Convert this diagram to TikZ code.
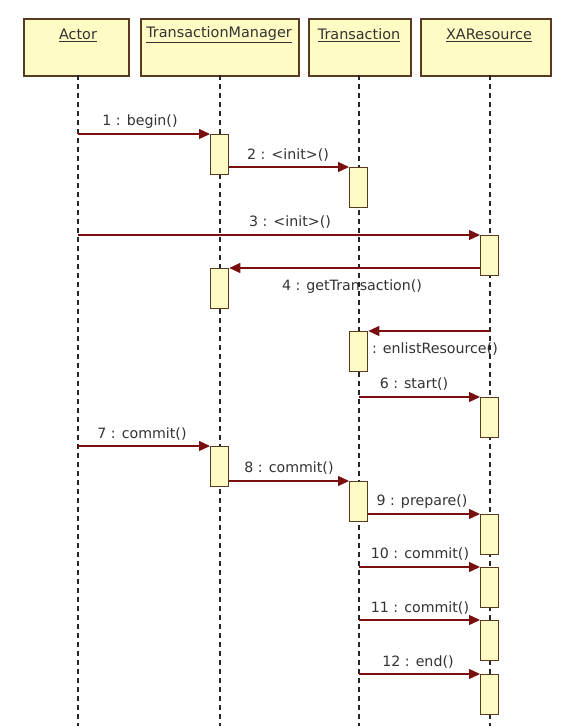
\documentclass[tikz,border=0pt]{standalone}
\usepackage{fontspec}
\setmainfont{DejaVu Sans}
\usetikzlibrary{arrows.meta}
\definecolor{boxfill}{HTML}{FFFBC4}
\definecolor{boxline}{HTML}{5A3A1E}
\definecolor{msgred}{HTML}{7A0F0F}
\definecolor{txt}{HTML}{333333}
\tikzset{
  x=1pt,y=-1pt,
  head/.style={draw=boxline,fill=boxfill,line width=1.5pt,minimum height=57pt,anchor=north west,inner sep=0},
  headtxt/.style={font=\fontsize{14.4}{16}\selectfont,text=txt,inner sep=0},
  life/.style={draw=black!85,line width=1.3pt,dash pattern=on 5pt off 4pt},
  act/.style={draw=boxline,fill=boxfill,line width=1.3pt,minimum width=18pt,minimum height=40pt,anchor=north west,inner sep=0},
  msg/.style={draw=msgred,line width=1.3pt,-{Triangle[length=11pt,width=10pt]}},
  lbl/.style={font=\fontsize{14.2}{16}\selectfont,text=txt,inner sep=0,anchor=base}
}
\begin{document}
\begin{tikzpicture}
\useasboundingbox (0,0) rectangle (578,726);
\fill[white] (0,0) rectangle (578,726);
% headers
\node[head,minimum width=105pt] (actor) at (23,18) {};
\node[head,minimum width=158pt] (tm) at (140,18) {};
\node[head,minimum width=102pt] (tr) at (308,18) {};
\node[head,minimum width=130pt] (xa) at (420,18) {};
\node[headtxt] (actorT) at (78,35) {\underline{Actor}};
\node[headtxt] (tmT) at (219,35) {\underline{TransactionManager}};
\node[headtxt] (trT) at (359,35) {\underline{Transaction}};
\node[headtxt] (xaT) at (489,35) {\underline{XAResource}};
% lifeline ends
\coordinate (actorE) at (78,726);
\coordinate (tmE) at (220,726);
\coordinate (trE) at (359,726);
\coordinate (xaE) at (490,726);
\coordinate (actorS) at (78,75);
\coordinate (tmS) at (220,75);
\coordinate (trS) at (359,75);
\coordinate (xaS) at (490,75);
\draw[life] (actorS) -- (actorE);
\draw[life] (tmS) -- (tmE);
\draw[life] (trS) -- (trE);
\draw[life] (xaS) -- (xaE);
% activations
\node[act] (a1) at (210,134) {};
\node[act] (a2) at (349,167) {};
\node[act] (a3) at (480,235) {};
\node[act] (a4) at (210,268) {};
\node[act] (a5) at (349,331) {};
\node[act] (a6) at (480,397) {};
\node[act] (a7) at (210,446) {};
\node[act] (a8) at (349,481) {};
\node[act] (a9) at (480,514) {};
\node[act] (a10) at (480,567) {};
\node[act] (a11) at (480,620) {};
\node[act] (a12) at (480,674) {};
% messages
\draw[msg] (a1.north west -| actorS) -- (a1.north west);
\draw[msg] (a2.north west -| a1.east) -- (a2.north west);
\draw[msg] (a3.north west -| actorS) -- (a3.north west);
\draw[msg] (a4.north east -| a3.west) -- (a4.north east);
\draw[msg] (a5.north east -| xaS) -- (a5.north east);
\draw[msg] (a6.north west -| trS) -- (a6.north west);
\draw[msg] (a7.north west -| actorS) -- (a7.north west);
\draw[msg] (a8.north west -| a7.east) -- (a8.north west);
\draw[msg] (a9.north west -| a8.east) -- (a9.north west);
\draw[msg] (a10.north west -| trS) -- (a10.north west);
\draw[msg] (a11.north west -| trS) -- (a11.north west);
\draw[msg] (a12.north west -| trS) -- (a12.north west);
% labels
\node[lbl] (l1) at (140,125) {1 : begin()};
\node[lbl] (l2) at (288,159) {2 : <init>()};
\node[lbl] (l3) at (290,226) {3 : <init>()};
\node[lbl] (l4) at (352,290) {4 : getTransaction()};
\node[lbl] (l5) at (435,353) {: enlistResource()};
\node[lbl] (l6) at (414,388) {6 : start()};
\node[lbl] (l7) at (142,438) {7 : commit()};
\node[lbl] (l8) at (289,472) {8 : commit()};
\node[lbl] (l9) at (422,505) {9 : prepare()};
\node[lbl] (l10) at (420,558) {10 : commit()};
\node[lbl] (l11) at (420,612) {11 : commit()};
\node[lbl] (l12) at (418,666) {12 : end()};
\end{tikzpicture}
\end{document}
